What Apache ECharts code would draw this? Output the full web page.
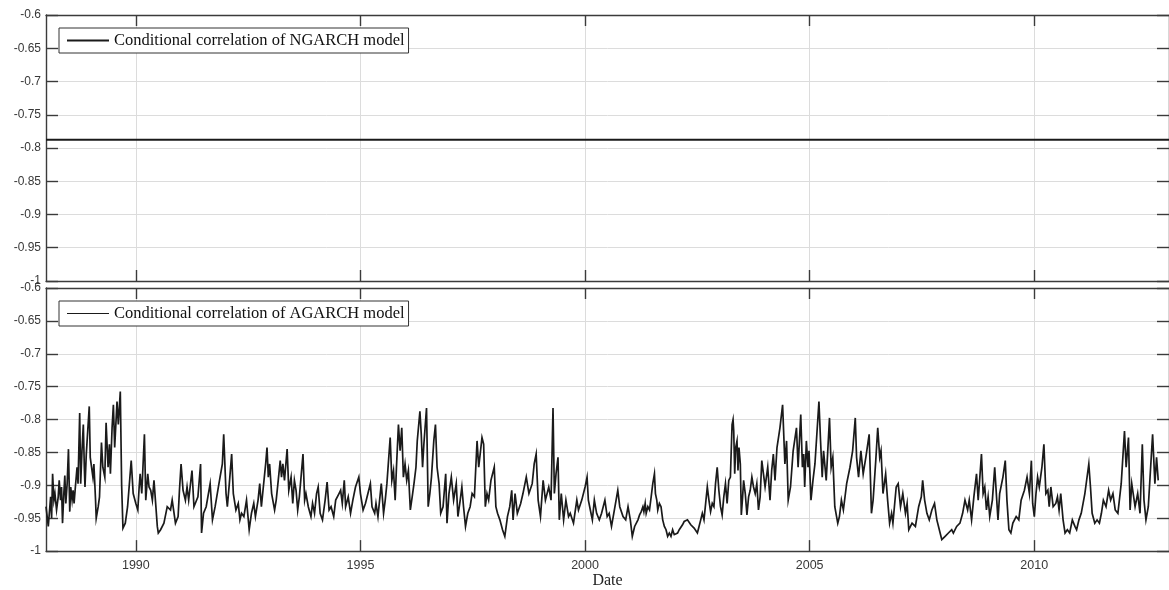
<!DOCTYPE html>
<html>
<head>
<meta charset="utf-8">
<script src="https://cdn.jsdelivr.net/npm/echarts@6/dist/echarts.min.js"></script>
<style>
  html, body { margin: 0; padding: 0; background: #fff; }
  #chart { width: 1169px; height: 590px; }
</style>
</head>
<body>
<div id="chart"></div>
<script>
// Date range shown on both panels (decimal years) and the labelled years
const dateMin = 1988;
const dateMax = 2013;
const yearTicks = [1990, 1995, 2000, 2005, 2010];

// Correlation axis range
const corrMin = -1;
const corrMax = -0.6;
const corrStep = 0.05;

// NGARCH: constant conditional correlation over the whole sample
const ngarchName = 'Conditional correlation of NGARCH model';
const ngarchLevel = -0.7876;
const ngarchDates = [1988, 2013];

// AGARCH: time-varying conditional correlation, [decimal year, correlation]
const agarchName = 'Conditional correlation of AGARCH model';
const agarch1988 = [
  [1988.000,-0.9325],[1988.051,-0.9625],[1988.103,-0.9175],[1988.125,-0.9500],[1988.147,-0.8825],[1988.176,-0.9225],[1988.199,-0.9125],[1988.235,-0.9375],[1988.272,-0.9175],[1988.294,-0.8925],[1988.324,-0.9225],[1988.346,-0.9025],[1988.368,-0.9575],[1988.397,-0.9125],[1988.419,-0.8850],[1988.441,-0.9275],[1988.471,-0.8975],[1988.500,-0.8450],[1988.529,-0.9400],[1988.551,-0.9025],[1988.581,-0.9225],[1988.603,-0.9075],[1988.625,-0.9275],[1988.654,-0.9025],[1988.691,-0.8725],[1988.713,-0.8975],[1988.750,-0.7900],[1988.772,-0.8975],[1988.801,-0.8475],[1988.831,-0.8075],[1988.853,-0.8725],[1988.868,-0.9025],[1988.897,-0.8525],[1988.963,-0.7800],[1988.985,-0.8575],[1989.044,-0.8875],[1989.066,-0.8675],[1989.103,-0.9225],[1989.118,-0.9500],[1989.162,-0.9325],[1989.191,-0.9175],[1989.235,-0.8350],[1989.265,-0.8725],[1989.309,-0.8875],[1989.338,-0.8050],[1989.382,-0.8725],[1989.412,-0.8375],[1989.434,-0.8825],[1989.471,-0.8125],[1989.500,-0.7775],[1989.529,-0.8425],[1989.581,-0.7725],[1989.610,-0.8075],[1989.654,-0.7575],[1989.684,-0.9000],[1989.713,-0.9650],[1989.765,-0.9575],[1989.816,-0.9325],[1989.868,-0.8875],[1989.897,-0.8625],[1989.941,-0.9125],[1990.000,-0.9275],[1990.044,-0.9375],[1990.074,-0.9025],[1990.096,-0.8825],[1990.132,-0.9125],[1990.191,-0.8225],[1990.221,-0.9225],[1990.265,-0.8825],[1990.294,-0.9025],[1990.331,-0.9075],[1990.368,-0.9225],[1990.404,-0.8925],[1990.441,-0.9275],[1990.478,-0.9625],[1990.500,-0.9725],[1990.551,-0.9675],[1990.625,-0.9575],[1990.699,-0.9325],[1990.772,-0.9375],[1990.809,-0.9225],[1990.882,-0.9575],[1990.941,-0.9475],[1990.971,-0.9075],[1991.007,-0.8675],[1991.051,-0.9075],[1991.103,-0.9225],[1991.140,-0.9025],[1991.176,-0.9225],[1991.250,-0.8775],[1991.294,-0.9325],[1991.382,-0.9175],[1991.441,-0.8675],[1991.463,-0.9725],[1991.507,-0.9425],[1991.566,-0.9325],[1991.654,-0.8975],[1991.706,-0.9525],[1991.765,-0.9325],[1991.838,-0.9025],[1991.875,-0.8875],[1991.926,-0.8675],[1991.956,-0.8225]
];
const agarch1992 = [
  [1992.008,-0.9125],[1992.037,-0.9325],[1992.081,-0.8975],[1992.133,-0.8525],[1992.170,-0.9125],[1992.228,-0.9375],[1992.280,-0.9275],[1992.317,-0.9525],[1992.353,-0.9425],[1992.405,-0.9475],[1992.464,-0.9225],[1992.523,-0.9675],[1992.574,-0.9425],[1992.625,-0.9275],[1992.662,-0.9475],[1992.721,-0.9225],[1992.758,-0.8975],[1992.795,-0.9325],[1992.831,-0.9075],[1992.890,-0.8675],[1992.920,-0.8425],[1992.949,-0.8875],[1992.978,-0.8675],[1993.023,-0.9125],[1993.089,-0.9375],[1993.125,-0.9225],[1993.170,-0.8925],[1993.214,-0.8625],[1993.243,-0.8875],[1993.273,-0.8675],[1993.309,-0.8925],[1993.368,-0.8450],[1993.405,-0.9075],[1993.456,-0.8875],[1993.493,-0.9275],[1993.530,-0.8925],[1993.567,-0.9075],[1993.603,-0.9375],[1993.640,-0.9175],[1993.684,-0.8825],[1993.721,-0.8525],[1993.758,-0.9225],[1993.787,-0.9125],[1993.839,-0.9325],[1993.898,-0.9475],[1993.934,-0.9275],[1993.978,-0.9425],[1994.023,-0.9125],[1994.059,-0.9025],[1994.103,-0.9425],[1994.155,-0.9525],[1994.214,-0.9225],[1994.258,-0.8950],[1994.302,-0.9375],[1994.346,-0.9325],[1994.405,-0.9475],[1994.449,-0.9225],[1994.523,-0.9125],[1994.559,-0.9075],[1994.596,-0.9275],[1994.640,-0.8925],[1994.670,-0.9325],[1994.728,-0.9175],[1994.780,-0.9425],[1994.831,-0.9225],[1994.890,-0.9025],[1994.964,-0.8875],[1995.000,-0.9125],[1995.059,-0.9375],[1995.111,-0.9275],[1995.221,-0.8975],[1995.258,-0.9325],[1995.317,-0.9425],[1995.346,-0.9275],[1995.390,-0.9475],[1995.464,-0.8975],[1995.515,-0.9425],[1995.552,-0.9225],[1995.589,-0.8975],[1995.662,-0.8275],[1995.699,-0.8925],[1995.736,-0.8775],[1995.773,-0.9225],[1995.802,-0.8725],[1995.846,-0.8075],[1995.883,-0.8475],[1995.920,-0.8125],[1995.956,-0.8875],[1995.993,-0.8675],[1996.030,-0.8925],[1996.067,-0.8775],[1996.111,-0.9375]
];
const agarch1996 = [
  [1996.162,-0.9125],[1996.192,-0.8975],[1996.236,-0.8725],[1996.265,-0.8325],[1996.324,-0.7875],[1996.354,-0.8225],[1996.383,-0.8725],[1996.412,-0.8375],[1996.471,-0.7825],[1996.508,-0.9325],[1996.545,-0.9125],[1996.581,-0.8875],[1996.633,-0.8325],[1996.670,-0.8075],[1996.706,-0.8725],[1996.751,-0.8975],[1996.787,-0.9425],[1996.839,-0.9325],[1996.898,-0.8825],[1996.927,-0.9575],[1996.971,-0.9125],[1997.023,-0.8875],[1997.074,-0.9225],[1997.133,-0.8975],[1997.170,-0.9475],[1997.221,-0.9225],[1997.258,-0.9025],[1997.295,-0.9325],[1997.339,-0.9625],[1997.390,-0.9425],[1997.442,-0.9325],[1997.486,-0.9125],[1997.537,-0.9175],[1997.596,-0.8325],[1997.633,-0.8725],[1997.706,-0.8275],[1997.743,-0.8375],[1997.780,-0.9325],[1997.817,-0.9125],[1997.854,-0.9225],[1997.905,-0.8925],[1997.979,-0.8725],[1998.015,-0.9325],[1998.052,-0.9425],[1998.104,-0.9525],[1998.163,-0.9675],[1998.214,-0.9775],[1998.273,-0.9475],[1998.324,-0.9325],[1998.368,-0.9075],[1998.398,-0.9525],[1998.442,-0.9125],[1998.493,-0.9425],[1998.567,-0.9275],[1998.618,-0.9125],[1998.692,-0.8875],[1998.751,-0.9125],[1998.824,-0.8975],[1998.868,-0.8675],[1998.912,-0.8525],[1998.956,-0.9225],[1999.008,-0.9475],[1999.067,-0.8925],[1999.118,-0.9225],[1999.192,-0.9025],[1999.243,-0.9225],[1999.287,-0.7825],[1999.317,-0.9125],[1999.354,-0.8825],[1999.398,-0.8575],[1999.427,-0.9525],[1999.471,-0.9125],[1999.523,-0.9525],[1999.574,-0.9225],[1999.633,-0.9475],[1999.670,-0.9425],[1999.743,-0.9575],[1999.817,-0.9225],[1999.854,-0.9375],[1999.927,-0.9225],[2000.001,-0.9025],[2000.045,-0.8875],[2000.074,-0.9225],[2000.118,-0.9375],[2000.163,-0.9525],[2000.207,-0.9225]
];
const agarch2000 = [
  [2000.258,-0.9425],[2000.317,-0.9525],[2000.368,-0.9425],[2000.442,-0.9225],[2000.493,-0.9475],[2000.537,-0.9425],[2000.589,-0.9625],[2000.640,-0.9425],[2000.729,-0.9075],[2000.773,-0.9325],[2000.846,-0.9475],[2000.905,-0.9525],[2000.957,-0.9325],[2001.008,-0.9525],[2001.052,-0.9775],
  [2001.104,-0.9625],[2001.178,-0.9525],[2001.214,-0.9450],[2001.251,-0.9400],[2001.288,-0.9325],[2001.310,-0.9400],[2001.339,-0.9275],[2001.361,-0.9425],[2001.398,-0.9325],[2001.435,-0.9375],[2001.472,-0.9175],[2001.508,-0.8975],[2001.545,-0.8825],[2001.567,-0.9125],[2001.597,-0.9225],[2001.619,-0.9375],[2001.655,-0.9275],[2001.692,-0.9325],[2001.729,-0.9525],[2001.766,-0.9625],[2001.803,-0.9675],[2001.839,-0.9775],[2001.876,-0.9725],[2001.913,-0.9775],[2001.950,-0.9675],[2001.986,-0.9750],[2002.023,-0.9775],[2002.060,-0.9725],[2002.097,-0.9675],[2002.133,-0.9650],[2002.170,-0.9600],[2002.207,-0.9550],[2002.244,-0.9575],[2002.280,-0.9525],[2002.317,-0.9550],[2002.354,-0.9600],[2002.391,-0.9625],[2002.428,-0.9650],[2002.464,-0.9675],[2002.501,-0.9725],[2002.538,-0.9625],[2002.575,-0.9525],[2002.611,-0.9425],[2002.648,-0.9525],[2002.685,-0.9275],[2002.722,-0.9025],[2002.758,-0.9225],[2002.795,-0.9400],[2002.832,-0.9275],[2002.869,-0.9325],[2002.905,-0.8975],[2002.942,-0.8725],[2002.979,-0.9075],[2003.016,-0.9325],[2003.052,-0.9450],[2003.089,-0.9175],[2003.126,-0.8975],[2003.163,-0.9275],[2003.200,-0.8925],[2003.236,-0.8875],[2003.273,-0.8075],[2003.295,-0.8000],[2003.310,-0.8175],[2003.332,-0.8825],[2003.354,-0.8425],[2003.383,-0.8325],[2003.405,-0.8775],[2003.427,-0.8425],[2003.457,-0.8675],[2003.479,-0.9450],[2003.508,-0.9175],[2003.530,-0.8925],[2003.567,-0.9125],[2003.604,-0.9450],[2003.641,-0.9175],[2003.677,-0.9075],[2003.714,-0.8875],[2003.751,-0.9025],[2003.788,-0.9125],[2003.824,-0.8975],[2003.861,-0.9375],[2003.898,-0.9175],[2003.935,-0.8625],
  [2004.008,-0.9025],[2004.067,-0.8725],[2004.118,-0.9225],[2004.155,-0.8775],[2004.192,-0.8525],[2004.229,-0.8925],[2004.273,-0.8425]
];
const agarch2004 = [
  [2004.339,-0.8125],[2004.398,-0.7775],[2004.449,-0.8675],[2004.486,-0.8325],[2004.523,-0.9225],[2004.574,-0.9025],[2004.633,-0.8475],[2004.707,-0.8125],[2004.743,-0.8725],[2004.802,-0.7925],[2004.839,-0.8725],[2004.868,-0.8525],[2004.890,-0.9025],[2004.927,-0.8325],[2004.964,-0.8725],[2004.986,-0.8475],[2005.030,-0.9225],[2005.074,-0.8925],[2005.118,-0.8675],[2005.207,-0.7725],[2005.243,-0.8325],[2005.280,-0.8875],[2005.310,-0.8475],[2005.369,-0.8925],[2005.442,-0.7975],[2005.479,-0.8725],[2005.516,-0.8575],[2005.560,-0.9325],[2005.626,-0.9575],[2005.663,-0.9475],[2005.707,-0.9225],[2005.751,-0.9375],[2005.824,-0.8975],[2005.898,-0.8725],[2005.957,-0.8475],[2006.016,-0.7975],[2006.045,-0.8575],[2006.089,-0.8875],[2006.141,-0.8475],[2006.192,-0.8825],[2006.251,-0.8575],[2006.325,-0.8225],[2006.376,-0.9425],[2006.413,-0.9225],[2006.472,-0.8625],[2006.516,-0.8125],[2006.560,-0.8575],[2006.589,-0.8475],[2006.633,-0.9125],[2006.692,-0.8825],[2006.736,-0.9225],[2006.780,-0.9575],[2006.824,-0.9425],[2006.854,-0.9575],[2006.927,-0.9025],[2006.971,-0.8975],[2007.023,-0.9325],[2007.074,-0.9125],[2007.133,-0.9425],[2007.170,-0.9275],[2007.207,-0.9675],[2007.280,-0.9575],[2007.354,-0.9625],[2007.427,-0.9325],[2007.486,-0.9175],[2007.516,-0.8925],[2007.560,-0.9225],[2007.611,-0.9425],[2007.663,-0.9525],[2007.721,-0.9375],[2007.780,-0.9275],[2007.832,-0.9525],[2007.905,-0.9725],[2007.942,-0.9825],[2008.016,-0.9775],[2008.089,-0.9725],[2008.163,-0.9675],[2008.199,-0.9725],[2008.273,-0.9625],[2008.346,-0.9575]
];
const agarch2008 = [
  [2008.406,-0.9425],[2008.458,-0.9225],[2008.517,-0.9375],[2008.553,-0.9225],[2008.605,-0.9525],[2008.656,-0.9175],[2008.715,-0.8825],[2008.752,-0.9225],[2008.789,-0.8875],[2008.825,-0.8525],[2008.862,-0.9125],[2008.899,-0.9025],[2008.936,-0.9375],[2008.973,-0.9175],[2009.009,-0.9475],[2009.068,-0.9225],[2009.120,-0.8725],[2009.156,-0.9125],[2009.193,-0.9525],[2009.230,-0.9125],[2009.303,-0.8875],[2009.355,-0.8625],[2009.392,-0.9225],[2009.436,-0.9675],[2009.480,-0.9725],[2009.524,-0.9575],[2009.598,-0.9475],[2009.656,-0.9525],[2009.708,-0.9225],[2009.781,-0.9075],[2009.840,-0.8875],[2009.892,-0.9125],[2009.936,-0.8625],[2009.965,-0.9275],[2010.002,-0.9475],[2010.039,-0.9125],[2010.075,-0.8875],[2010.112,-0.9025],[2010.171,-0.8725],[2010.215,-0.8375],[2010.259,-0.9125],[2010.303,-0.9075],[2010.333,-0.9325],[2010.370,-0.9025],[2010.421,-0.9325],[2010.480,-0.9275],[2010.517,-0.9175],[2010.553,-0.9375],[2010.590,-0.9125],[2010.642,-0.9525],[2010.686,-0.9725],[2010.737,-0.9675],[2010.789,-0.9725],[2010.848,-0.9525],[2010.906,-0.9625],[2010.943,-0.9675],[2010.995,-0.9525],[2011.046,-0.9425],[2011.127,-0.9125],[2011.215,-0.8675],[2011.252,-0.9025],[2011.289,-0.9425],[2011.348,-0.9575],[2011.399,-0.9525],[2011.451,-0.9575],[2011.495,-0.9425],[2011.539,-0.9225],[2011.598,-0.9325],[2011.656,-0.9075],[2011.701,-0.9225],[2011.752,-0.9125],[2011.803,-0.9375],[2011.862,-0.9425],[2011.936,-0.8975],[2012.009,-0.8175],[2012.046,-0.8725],[2012.098,-0.8275],[2012.134,-0.9375],[2012.171,-0.8975],[2012.245,-0.9325],[2012.303,-0.9125],[2012.355,-0.9425],[2012.406,-0.8375],[2012.443,-0.9225],[2012.487,-0.9525],[2012.539,-0.9325],[2012.635,-0.8225],[2012.686,-0.8975],[2012.723,-0.8575],[2012.760,-0.8925]
];

const agarchSeries = [].concat(agarch1988, agarch1992, agarch1996, agarch2000, agarch2004, agarch2008);
const ngarchSeries = ngarchDates.map(d => [d, ngarchLevel]);

const AXIS_COLOR = '#3b3b3b';
const GRID_COLOR = '#dcdcdc';
const LINE_COLOR = '#1a1a1a';
const SANS = 'Liberation Sans, Arial, sans-serif';
const SERIF = 'Liberation Serif, Times New Roman, serif';

function dateAxis(gridIndex, position, withLabels) {
  return {
    type: 'value', gridIndex, position, min: dateMin, max: dateMax,
    axisLine: { show: true, onZero: false, lineStyle: { color: AXIS_COLOR, width: 1.4 } },
    axisTick: { show: true, inside: true, length: 11, customValues: yearTicks,
                lineStyle: { color: AXIS_COLOR, width: 1.4 } },
    axisLabel: { show: withLabels, customValues: yearTicks, margin: 8,
                 color: '#383838', fontFamily: SANS, fontSize: 12.5,
                 formatter: v => String(v) },
    splitLine: { show: position === 'bottom', lineStyle: { color: GRID_COLOR, width: 1 } }
  };
}

function corrAxis(gridIndex, position) {
  return {
    type: 'value', gridIndex, position, min: corrMin, max: corrMax, interval: corrStep,
    axisLine: { show: true, onZero: false, lineStyle: { color: AXIS_COLOR, width: 1.4 } },
    axisTick: { show: true, inside: true, length: 12, lineStyle: { color: AXIS_COLOR, width: 1.4 } },
    axisLabel: { show: position === 'left', margin: 5, color: '#383838', fontFamily: SANS, fontSize: 12,
                 formatter: v => String(Math.round(v * 100) / 100) },
    splitLine: { show: position === 'left', lineStyle: { color: GRID_COLOR, width: 1 } }
  };
}

const bottomDate = dateAxis(1, 'bottom', true);
Object.assign(bottomDate, {
  name: 'Date', nameLocation: 'middle', nameGap: 19,
  nameTextStyle: { fontFamily: SERIF, fontSize: 16, color: '#222' }
});

function legendBox(name, top, strokeWidth) {
  return {
    data: [name], left: 59, top,
    icon: 'rect', itemWidth: 42, itemHeight: strokeWidth, itemGap: 0,
    itemStyle: { color: LINE_COLOR },
    backgroundColor: '#fff', borderColor: '#333', borderWidth: 1,
    padding: [3, 4, 3, 8], selectedMode: false,
    textStyle: { fontFamily: SERIF, fontSize: 16.5, color: '#111', lineHeight: 19 }
  };
}

const chart = echarts.init(document.getElementById('chart'), null, { renderer: 'canvas' });
chart.setOption({
  animation: false,
  backgroundColor: '#fff',
  grid: [
    { left: 46, right: -10, top: 15, height: 266 },
    { left: 46, right: -10, top: 288, height: 267 }
  ],
  xAxis: [
    dateAxis(0, 'bottom', false),
    dateAxis(0, 'top', false),
    bottomDate,
    dateAxis(1, 'top', false)
  ],
  yAxis: [
    corrAxis(0, 'left'),
    corrAxis(0, 'right'),
    corrAxis(1, 'left'),
    corrAxis(1, 'right')
  ],
  legend: [legendBox(ngarchName, 28, 2), legendBox(agarchName, 301, 1)],
  series: [
    {
      name: ngarchName, type: 'line', xAxisIndex: 0, yAxisIndex: 0,
      data: ngarchSeries, symbol: 'none', showSymbol: false,
      lineStyle: { color: LINE_COLOR, width: 1.8 }, itemStyle: { color: LINE_COLOR }
    },
    {
      name: agarchName, type: 'line', xAxisIndex: 2, yAxisIndex: 2,
      data: agarchSeries, symbol: 'none', showSymbol: false,
      lineStyle: { color: LINE_COLOR, width: 1.7, join: 'miter' }, itemStyle: { color: LINE_COLOR }
    }
  ]
});
</script>
</body>
</html>
